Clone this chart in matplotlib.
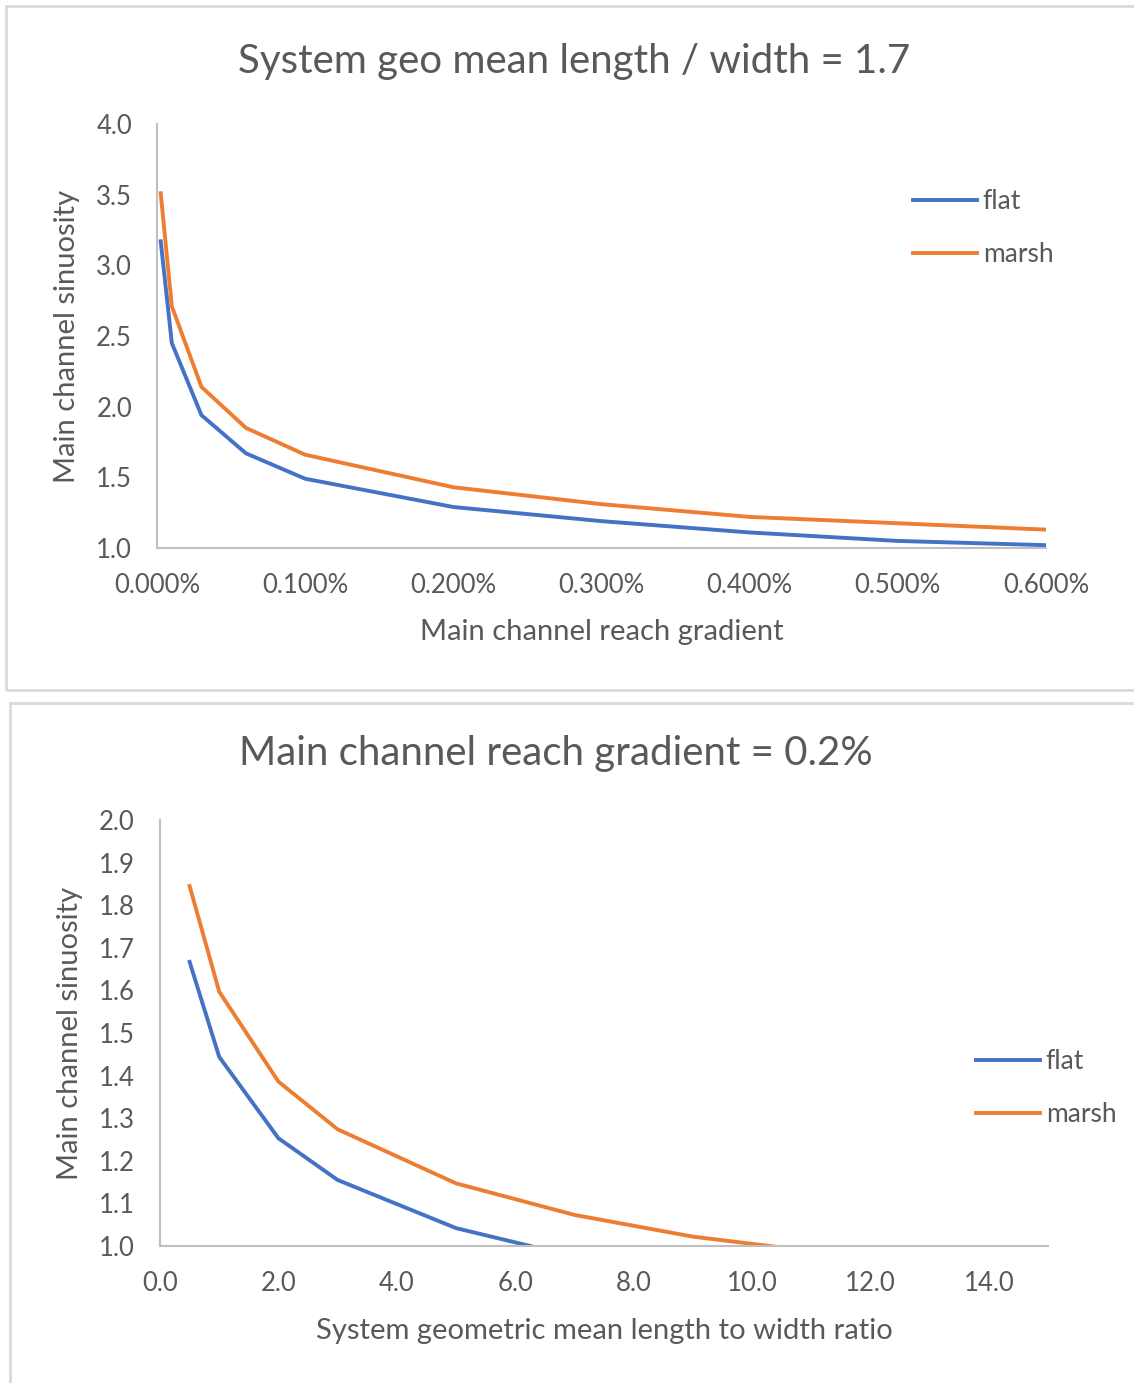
import matplotlib.pyplot as plt
from matplotlib.patches import Rectangle
from matplotlib.ticker import FuncFormatter

plt.rcParams['font.family'] = ['Lato', 'DejaVu Sans']

# top panel: sinuosity vs gradient (gradient in %)
gradient = [0.0025, 0.01, 0.03, 0.06, 0.1, 0.2, 0.3, 0.4, 0.5, 0.6]
flat_top = [3.17, 2.45, 1.94, 1.67, 1.49, 1.29, 1.19, 1.11, 1.05, 1.02]
marsh_top = [3.51, 2.71, 2.14, 1.85, 1.66, 1.43, 1.31, 1.22, 1.175, 1.13]

# bottom panel: sinuosity vs length/width ratio
ratio_flat = [0.5, 1, 2, 3, 5, 7]
flat_bot = [1.667, 1.444, 1.253, 1.155, 1.042, 0.975]
ratio_marsh = [0.5, 1, 2, 3, 5, 7, 9, 11]
marsh_bot = [1.845, 1.597, 1.386, 1.274, 1.147, 1.073, 1.022, 0.988]

BLUE = '#4472C4'
ORANGE = '#ED7D31'
GREY_TXT = '#595959'
AXIS = '#BFBFBF'

W, H = 1134, 1383
fig = plt.figure(figsize=(W / 100, H / 100), dpi=100)


def px_axes(left, top, right, bottom):
    return fig.add_axes([left / W, 1 - bottom / H, (right - left) / W, (bottom - top) / H])


def style(ax):
    for s in ['top', 'right']:
        ax.spines[s].set_visible(False)
    for s in ['left', 'bottom']:
        ax.spines[s].set_color(AXIS)
        ax.spines[s].set_linewidth(1.5)
    ax.tick_params(length=0, labelsize=18.5, labelcolor=GREY_TXT)
    ax.tick_params(axis='x', pad=18)
    ax.tick_params(axis='y', pad=18)


# panel frames
fig.patches.append(Rectangle((6 / W, 1 - 690 / H), 1140 / W, 684 / H, transform=fig.transFigure,
                             fill=False, edgecolor='#D9D9D9', linewidth=2))
fig.patches.append(Rectangle((10 / W, 1 - 1390 / H), 1140 / W, 687 / H, transform=fig.transFigure,
                             fill=False, edgecolor='#D9D9D9', linewidth=2))

# ---- top chart ----
ax1 = px_axes(157, 124, 1046, 548)
style(ax1)
ax1.plot(gradient, flat_top, color=BLUE, lw=2.8, label='flat')
ax1.plot(gradient, marsh_top, color=ORANGE, lw=2.8, label='marsh')
ax1.set_xlim(0, 0.6)
ax1.set_ylim(1.0, 4.0)
ax1.set_xticks([0, 0.1, 0.2, 0.3, 0.4, 0.5, 0.6])
ax1.set_yticks([1.0, 1.5, 2.0, 2.5, 3.0, 3.5, 4.0])
ax1.xaxis.set_major_formatter(FuncFormatter(lambda v, p: f'{v:.3f}%'))
ax1.yaxis.set_major_formatter(FuncFormatter(lambda v, p: f'{v:.1f}'))
ax1.set_xlabel('Main channel reach gradient', fontsize=21, color=GREY_TXT)
ax1.set_ylabel('Main channel sinuosity', fontsize=21, color=GREY_TXT)
ax1.xaxis.set_label_coords(0.5, -0.167)
ax1.yaxis.set_label_coords(-0.087, 0.5)
ax1.legend(loc='upper left', bbox_to_anchor=(889 / W, 1 - 165 / H), bbox_transform=fig.transFigure,
           frameon=False, fontsize=19, handlelength=2.45, handletextpad=0.2, labelspacing=1.08,
           labelcolor=GREY_TXT)
fig.text(574 / W, 1 - 61 / H, 'System geo mean length / width = 1.7', ha='center', va='center',
         fontsize=29, color=GREY_TXT)

# ---- bottom chart ----
ax2 = px_axes(160, 820, 1048, 1246)
style(ax2)
ax2.plot(ratio_flat, flat_bot, color=BLUE, lw=2.8, label='flat')
ax2.plot(ratio_marsh, marsh_bot, color=ORANGE, lw=2.8, label='marsh')
ax2.set_xlim(0, 15)
ax2.set_ylim(1.0, 2.0)
ax2.set_xticks(range(0, 15, 2))
ax2.set_yticks([1.0 + 0.1 * i for i in range(11)])
ax2.xaxis.set_major_formatter(FuncFormatter(lambda v, p: f'{v:.1f}'))
ax2.yaxis.set_major_formatter(FuncFormatter(lambda v, p: f'{v:.1f}'))
ax2.set_xlabel('System geometric mean length to width ratio', fontsize=21, color=GREY_TXT)
ax2.set_ylabel('Main channel sinuosity', fontsize=21, color=GREY_TXT)
ax2.xaxis.set_label_coords(0.5, -0.169)
ax2.yaxis.set_label_coords(-0.087, 0.5)
ax2.legend(loc='upper left', bbox_to_anchor=(952 / W, 1 - 1025 / H), bbox_transform=fig.transFigure,
           frameon=False, fontsize=19, handlelength=2.45, handletextpad=0.2, labelspacing=1.08,
           labelcolor=GREY_TXT)
fig.text(556 / W, 1 - 754 / H, 'Main channel reach gradient = 0.2%', ha='center', va='center',
         fontsize=29, color=GREY_TXT)

fig.savefig('out.png', dpi=100, facecolor='white')
